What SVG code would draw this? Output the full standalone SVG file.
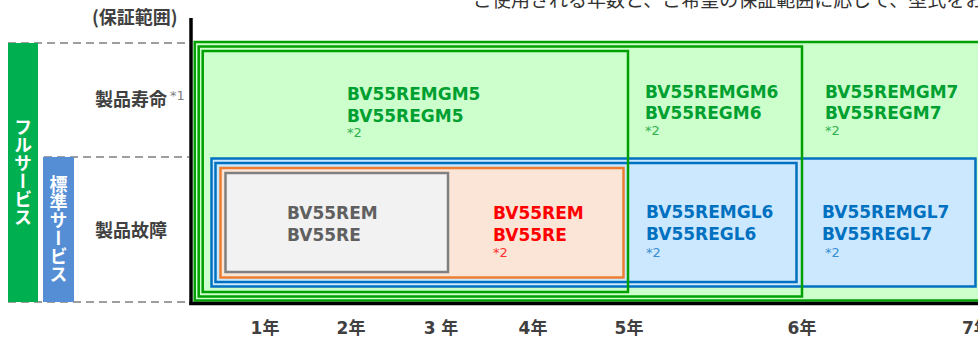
<svg xmlns="http://www.w3.org/2000/svg" width="978" height="338" viewBox="0 0 978 338">
<style>
.jp{font-family:"Noto Sans CJK JP","DejaVu Sans",sans-serif;}
.lab{font-family:"Noto Sans CJK JP",sans-serif;font-weight:bold;font-size:18px;fill:#404040;}
.vt{font-family:"Noto Sans CJK JP",sans-serif;font-weight:bold;font-size:18px;fill:#ffffff;writing-mode:vertical-rl;text-anchor:middle;}
.code{font-family:"DejaVu Sans","Noto Sans CJK JP",sans-serif;font-weight:bold;font-size:17px;}
.note{font-family:"DejaVu Sans",sans-serif;font-size:13px;}
.yr{font-family:"DejaVu Sans","Noto Sans CJK JP",sans-serif;font-weight:bold;font-size:17px;fill:#404040;text-anchor:middle;}
.gfill{fill:#CCFFCC;stroke:none;}
.gline{fill:none;stroke:#00A000;stroke-width:2.5;}
.blue{fill:#CCE8FF;stroke:#0070C0;stroke-width:2.5;}
.orange{fill:#FBE5D6;stroke:#ED7D31;stroke-width:2.5;}
.gray{fill:#F2F2F2;stroke:#808080;stroke-width:2.5;}
.dash{stroke:#7F7F7F;stroke-width:1.5;stroke-dasharray:8 5;fill:none;}
.axis{stroke:#000000;stroke-width:3.5;fill:none;}
.tg{fill:#00A030;} .ng{fill:#33B050;}
.tb{fill:#0070C0;} .nb{fill:#3A8ED0;}
.tr{fill:#FF0000;} .nr{fill:#FF3030;}
.tgr{fill:#606060;}
</style>

<text class="jp" x="473" y="6.5" font-size="19" fill="#333333">ご使用される年数と、ご希望の保証範囲に応じて、型式をお</text>

<g id="guides">
  <line class="dash" x1="8" y1="43" x2="189" y2="43"/>
  <line class="dash" x1="44" y1="157" x2="189" y2="157"/>
  <line class="dash" x1="8" y1="302" x2="189" y2="302"/>
</g>

<g id="range-label"><text class="lab" x="92" y="24">(保証範囲)</text></g>

<g id="bar-full">
  <rect x="8" y="43" width="30" height="259" fill="#00B050"/>
  <text class="vt" x="23" y="172.5">フルサービス</text>
</g>
<g id="bar-standard">
  <rect x="43" y="157" width="31" height="145" fill="#558ED5"/>
  <text class="vt" x="58.5" y="229.5">標準サービス</text>
</g>

<g id="row-life">
  <text class="lab" x="95" y="106">製品寿命</text>
  <text class="note" x="170" y="100" fill="#808080">*1</text>
</g>
<g id="row-failure">
  <text class="lab" x="95" y="237">製品故障</text>
</g>

<g id="fills">
  <rect class="gfill" x="194.7" y="42" width="800" height="258.5"/>
</g>

<g id="box-gl7">
  <rect class="blue" x="211.5" y="158.5" width="764" height="128"/>
  <text class="code tb" x="822" y="218">BV55REMGL7</text>
  <text class="code tb" x="822" y="240">BV55REGL7</text>
  <text class="note nb" x="825" y="257">*2</text>
</g>
<g id="box-gl6">
  <rect class="blue" x="215.5" y="163" width="581" height="119"/>
  <text class="code tb" x="646" y="218">BV55REMGL6</text>
  <text class="code tb" x="646" y="240">BV55REGL6</text>
  <text class="note nb" x="646" y="257">*2</text>
</g>
<g id="box-rem5">
  <rect class="orange" x="220.5" y="168" width="403" height="109.5"/>
  <text class="code tr" x="493" y="219">BV55REM</text>
  <text class="code tr" x="493" y="241">BV55RE</text>
  <text class="note nr" x="493" y="257">*2</text>
</g>
<g id="box-rem3">
  <rect class="gray" x="225.5" y="173" width="222.5" height="99"/>
  <text class="code tgr" x="287" y="219">BV55REM</text>
  <text class="code tgr" x="287" y="241">BV55RE</text>
</g>

<g id="box-gm7">
  <rect class="gline" x="194.7" y="42" width="800" height="258.5"/>
  <text class="code tg" x="825" y="98">BV55REMGM7</text>
  <text class="code tg" x="825" y="119">BV55REGM7</text>
  <text class="note ng" x="825" y="135">*2</text>
</g>
<g id="box-gm6">
  <rect class="gline" x="198.7" y="46.5" width="603.3" height="250"/>
  <text class="code tg" x="645" y="98">BV55REMGM6</text>
  <text class="code tg" x="645" y="119">BV55REGM6</text>
  <text class="note ng" x="645" y="135">*2</text>
</g>
<g id="box-gm5">
  <rect class="gline" x="202.7" y="51" width="425.3" height="241"/>
  <text class="code tg" x="347" y="100">BV55REMGM5</text>
  <text class="code tg" x="347" y="122">BV55REGM5</text>
  <text class="note ng" x="347" y="137">*2</text>
</g>

<g id="axis">
  <line class="axis" x1="191" y1="18" x2="191" y2="305"/>
  <line class="axis" x1="189.3" y1="303.5" x2="978" y2="303.5"/>
</g>

<g id="years">
  <text class="yr" x="265" y="334">1年</text>
  <text class="yr" x="351" y="334">2年</text>
  <text class="yr" x="441" y="334">3 年</text>
  <text class="yr" x="533" y="334">4年</text>
  <text class="yr" x="629" y="334">5年</text>
  <text class="yr" x="802" y="334">6年</text>
  <text class="yr" x="962" y="334" style="text-anchor:start">7年</text>
</g>
</svg>
